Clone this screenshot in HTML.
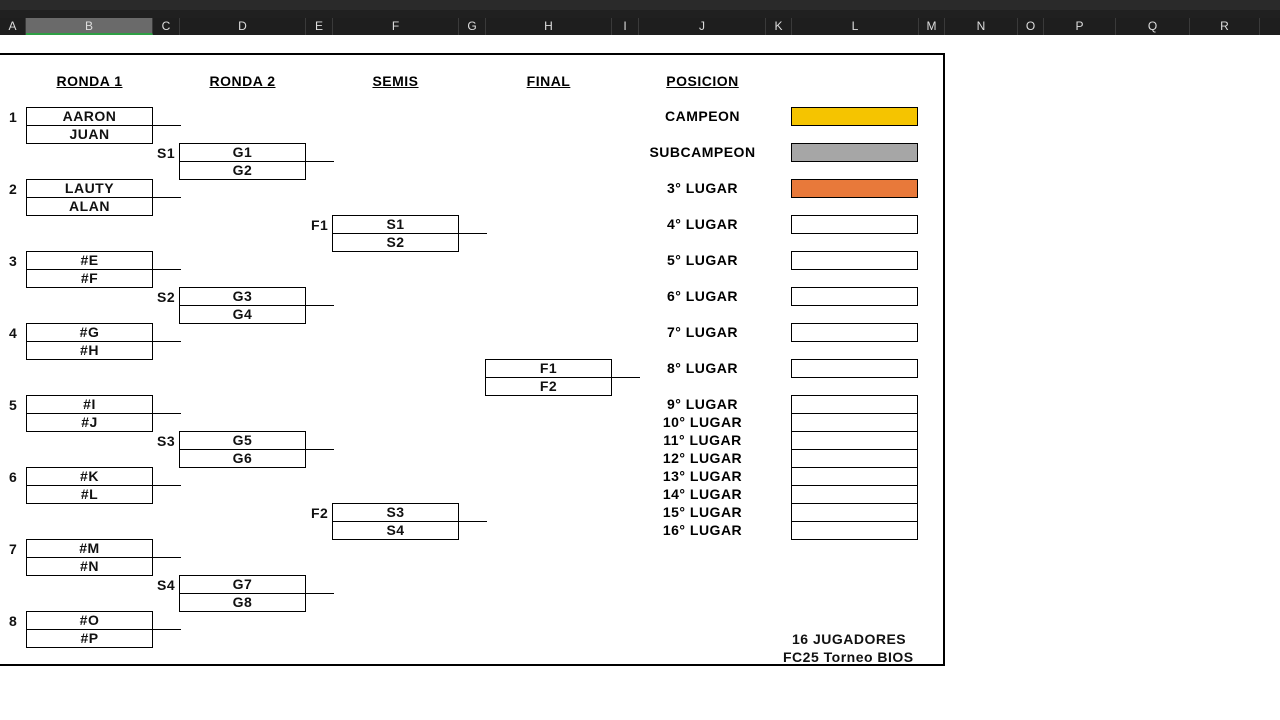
<!DOCTYPE html><html><head><style>
body{margin:0;width:1280px;height:720px;background:#fff;position:relative;overflow:hidden;font-family:"Liberation Sans",Arial,sans-serif;}
.a{position:absolute}
.bx{position:absolute;border:1px solid #000;box-sizing:border-box;width:127px;height:19px;font-size:14px;letter-spacing:0.5px;font-weight:bold;text-align:center;line-height:17px;color:#111}
.ln{position:absolute;height:1px;background:#000;width:28px}
.t{position:absolute;font-size:14px;letter-spacing:0.5px;font-weight:bold;color:#111}
.h{position:absolute;top:73px;font-size:14px;letter-spacing:0.5px;font-weight:bold;text-decoration:underline;width:127px;text-align:center}
.ch{position:absolute;top:18px;height:17px;color:#ddd;font-size:12px;line-height:17px;text-align:center;border-right:1px solid #3a3a3a;box-sizing:border-box}
.p{position:absolute;left:639px;width:127px;text-align:center;font-size:14px;letter-spacing:0.5px;font-weight:bold;white-space:nowrap}
</style></head><body>
<div class="a" style="left:0;top:0;width:1280px;height:10px;background:#2a2a2a"></div>
<div class="a" style="left:0;top:10px;width:1280px;height:8px;background:#202020"></div>
<div class="a" style="left:0;top:18px;width:1280px;height:17px;background:#1e1e1e"></div>
<div class="ch" style="left:0;width:26px">A</div>
<div class="ch" style="left:26px;width:127px;background:#6a6a6a;border-bottom:2px solid #2e9e44">B</div>
<div class="ch" style="left:153px;width:27px">C</div>
<div class="ch" style="left:180px;width:126px">D</div>
<div class="ch" style="left:306px;width:27px">E</div>
<div class="ch" style="left:333px;width:126px">F</div>
<div class="ch" style="left:459px;width:27px">G</div>
<div class="ch" style="left:486px;width:126px">H</div>
<div class="ch" style="left:612px;width:27px">I</div>
<div class="ch" style="left:639px;width:127px">J</div>
<div class="ch" style="left:766px;width:26px">K</div>
<div class="ch" style="left:792px;width:127px">L</div>
<div class="ch" style="left:919px;width:26px">M</div>
<div class="ch" style="left:945px;width:73px">N</div>
<div class="ch" style="left:1018px;width:26px">O</div>
<div class="ch" style="left:1044px;width:72px">P</div>
<div class="ch" style="left:1116px;width:74px">Q</div>
<div class="ch" style="left:1190px;width:70px">R</div>
<div class="a" style="left:-2px;top:53px;width:947px;height:613px;border:2px solid #000;box-sizing:border-box"></div>
<div class="h" style="left:26px">RONDA 1</div>
<div class="h" style="left:179px">RONDA 2</div>
<div class="h" style="left:332px">SEMIS</div>
<div class="h" style="left:485px">FINAL</div>
<div class="h" style="left:639px">POSICION</div>
<div id="c"></div>
<div class="t" style="left:792px;top:631px">16 JUGADORES</div>
<div class="t" style="left:783px;top:649px">FC25 Torneo BIOS</div>
<script>
var c=document.getElementById('c'),h='';
function pair(x,y,a,b,lab,lx){h+='<div class="bx" style="left:'+x+'px;top:'+y+'px">'+a+'</div><div class="bx" style="left:'+x+'px;top:'+(y+18)+'px">'+b+'</div><div class="ln" style="left:'+(x+127)+'px;top:'+(y+18)+'px"></div><div class="t" style="left:'+lx+'px;top:'+(y+2)+'px">'+lab+'</div>';}
var r1=[['AARON','JUAN'],['LAUTY','ALAN'],['#E','#F'],['#G','#H'],['#I','#J'],['#K','#L'],['#M','#N'],['#O','#P']];
r1.forEach(function(p,i){pair(26,107+72*i,p[0],p[1],i+1,9);});
for(var i=0;i<4;i++)pair(179,143+144*i,'G'+(2*i+1),'G'+(2*i+2),'S'+(i+1),157);
pair(332,215,'S1','S2','F1',311);pair(332,503,'S3','S4','F2',311);
pair(485,359,'F1','F2','',0);
var pos=['CAMPEON','SUBCAMPEON','3° LUGAR','4° LUGAR','5° LUGAR','6° LUGAR','7° LUGAR','8° LUGAR'];
var col=['#f5c400','#a6a6a6','#e8793a'];
pos.forEach(function(p,i){var y=107+36*i;h+='<div class="p" style="top:'+(y+1)+'px">'+p+'</div><div class="bx" style="left:791px;top:'+y+'px;background:'+(col[i]||'#fff')+'"></div>';});
for(var i=9;i<=16;i++){var y=395+18*(i-9);h+='<div class="p" style="top:'+(y+1)+'px">'+i+'° LUGAR</div><div class="bx" style="left:791px;top:'+y+'px"></div>';}
c.innerHTML=h;
</script>
</body></html>
